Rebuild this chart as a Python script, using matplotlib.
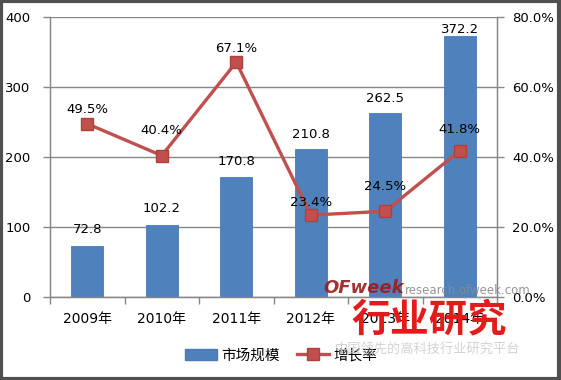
import matplotlib
matplotlib.use("Agg")
import matplotlib.pyplot as plt
from matplotlib.patches import Rectangle
from matplotlib.lines import Line2D
from matplotlib.patches import Patch

plt.rcParams['font.family'] = ['DejaVu Sans', 'Noto Sans CJK SC']

categories = ['2009年', '2010年', '2011年', '2012年', '2013年', '2014年']
market_size = [72.8, 102.2, 170.8, 210.8, 262.5, 372.2]
growth_rate = [49.5, 40.4, 67.1, 23.4, 24.5, 41.8]
left_ticks = [0, 100, 200, 300, 400]
right_ticks = [0, 20, 40, 60, 80]
series_names = ['市场规模', '增长率']

# label offsets (points) for readability, matching the reference placement
bar_label_off = [12.2, 12.2, 11.5, 10.8, 10.8, 5]
line_label_off = [10, 18, 10, 9.4, 18, 15]

W, H = 561, 380
fig = plt.figure(figsize=(W / 100, H / 100), dpi=100)
fig.patch.set_facecolor('white')

L, R, T, B = 50, 497, 17, 297
ax = fig.add_axes([L / W, 1 - B / H, (R - L) / W, (B - T) / H])
ax2 = ax.twinx()

x = list(range(len(categories)))
bar_color = '#4F81BD'
line_color = '#C0504D'
grid_color = '#878787'

ax.bar(x, market_size, width=0.435, color=bar_color, edgecolor='#4A7AB5', linewidth=0.6, zorder=3)
ax.set_xlim(-0.5, len(categories) - 0.5)
ax.set_ylim(0, 400)
ax.set_yticks(left_ticks)
ax.set_yticklabels([str(v) for v in left_ticks], fontsize=9.5)
ax.yaxis.grid(True, color=grid_color, linewidth=1.0, zorder=0)
ax.set_axisbelow(True)

# category boundaries as major ticks, labels at minor
ax.set_xticks([i - 0.5 for i in range(len(categories) + 1)])
ax.set_xticklabels([])
ax.set_xticks(x, minor=True)
ax.set_xticklabels(categories, minor=True, fontsize=10)
ax.tick_params(axis='x', which='major', length=5, color=grid_color, width=1)
ax.tick_params(axis='x', which='minor', length=0, pad=11)
ax.tick_params(axis='y', length=5, color=grid_color, width=1, pad=9)

for sp in ['top']:
    ax.spines[sp].set_visible(False)
    ax2.spines[sp].set_visible(False)
for sp in ['left', 'bottom', 'right']:
    ax.spines[sp].set_color(grid_color)
    ax2.spines[sp].set_color(grid_color)
    ax2.spines[sp].set_linewidth(1.0)

for xi, v, off in zip(x, market_size, bar_label_off):
    ax.annotate(f'{v:.1f}', (xi, v), xytext=(0, off), textcoords='offset points',
                ha='center', va='center', fontsize=9.5, zorder=5)

gr = [g / 100 for g in growth_rate]
ax2.plot(x, gr, color=line_color, linewidth=2.4, marker='s', markersize=8.5,
         markerfacecolor=line_color, markeredgecolor='#B0403D', zorder=4)
ax2.set_ylim(0, 0.8)
ax2.set_yticks([t / 100 for t in right_ticks])
ax2.set_yticklabels([f'{t:.1f}%' for t in right_ticks], fontsize=9.5)
ax2.tick_params(axis='y', length=5, color=grid_color, width=1, pad=6)

for xi, v, g, off in zip(x, gr, growth_rate, line_label_off):
    ax2.annotate(f'{g:.1f}%', (xi, v), xytext=(0, off), textcoords='offset points',
                 ha='center', va='center', fontsize=9.5, zorder=6)

# legend
handles = [Patch(facecolor=bar_color, edgecolor='#4A7AB5'),
           Line2D([], [], color=line_color, linewidth=2.4, marker='s', markersize=8.5,
                  markerfacecolor=line_color, markeredgecolor='#B0403D')]
fig.legend(handles, series_names, loc='center', bbox_to_anchor=(281 / W, 1 - 355 / H),
           ncol=2, frameon=False, fontsize=10.5, handlelength=2.2, handletextpad=0.3,
           columnspacing=1.2, borderaxespad=0)

# watermark
fig.text(323 / W, 1 - 288 / H, 'OFweek', fontsize=13, fontweight='bold', fontstyle='italic',
         color='#9B1B1B', ha='left', va='center', alpha=0.9, zorder=10)
fig.text(405 / W, 1 - 290 / H, 'research.ofweek.com', fontsize=8.5, color='#8A8A8A',
         ha='left', va='center', alpha=0.9, zorder=10)
fig.text(429 / W, 1 - 320 / H, '行业研究', fontsize=28, fontweight='bold', color='#E41B1B',
         family=['Noto Sans CJK SC'], ha='center', va='center', zorder=10)
fig.text(427 / W, 1 - 350 / H, '中国领先的高科技行业研究平台', fontsize=9.5, color='#C8C8C8',
         family=['Noto Sans CJK SC'], ha='center', va='center', alpha=0.8, zorder=10)

# outer frame
fig.patches.append(Rectangle((0.002, 0.003), 0.995, 0.994, transform=fig.transFigure,
                             fill=False, edgecolor='#505050', linewidth=3))

fig.savefig('out.png', dpi=100, facecolor='white')
